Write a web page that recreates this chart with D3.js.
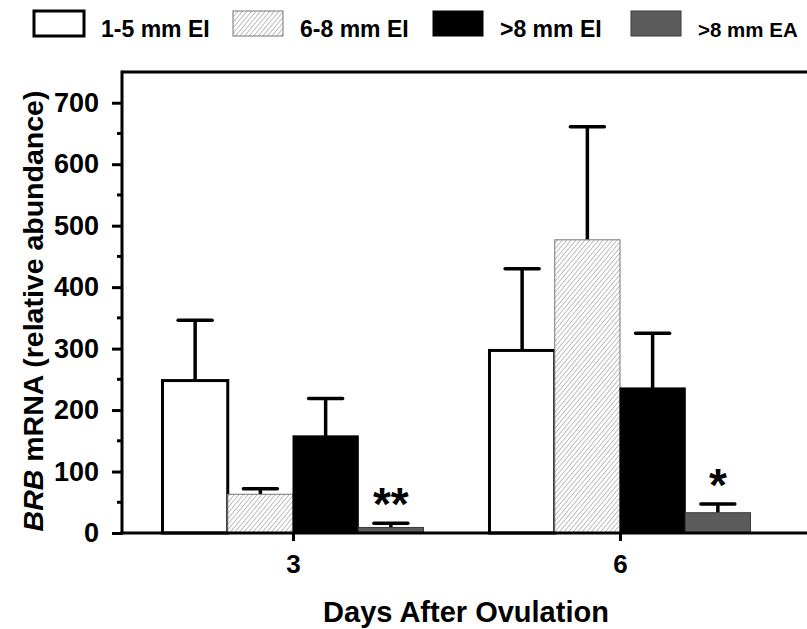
<!DOCTYPE html>
<html>
<head>
<meta charset="utf-8">
<script src="https://cdn.jsdelivr.net/npm/d3@7"></script>
<style>
html,body{margin:0;padding:0;background:#fff;}
svg{display:block;font-family:"Liberation Sans",Arial,sans-serif;}
</style>
</head>
<body>
<svg id="chart" width="807" height="629"></svg>
<script>
// ---- data ----
const days = ["3", "6"];
const seriesNames = ["1-5 mm EI", "6-8 mm EI", ">8 mm EI", ">8 mm EA"];
const means = {
  "3": [248, 63, 158, 9],
  "6": [297, 477, 236, 33]
};
const errTops = {
  "3": [346, 72, 219, 16],
  "6": [430, 661, 325, 47]
};
const significance = {
  "3": ["", "", "", "**"],
  "6": ["", "", "", "*"]
};
const yTicksMajor = [0, 100, 200, 300, 400, 500, 600, 700];
const yTicksMinor = [50, 150, 250, 350, 450, 550, 650];
const xTitle = "Days After Ovulation";

// ---- layout ----
const mLeft = 122, mRight = 807, mTop = 72, mBottom = 533;
const svg = d3.select("#chart");

const defs = svg.append("defs");
const pat = defs.append("pattern").attr("id", "hatch")
  .attr("patternUnits", "userSpaceOnUse").attr("width", 3.5).attr("height", 3.5)
  .attr("patternTransform", "rotate(40)");
pat.append("rect").attr("width", 3.5).attr("height", 3.5).attr("fill", "#fff");
pat.append("line").attr("x1", 0).attr("y1", 0).attr("x2", 0).attr("y2", 3.5)
  .attr("stroke", "#8a8a8a").attr("stroke-width", 1.1);

const styles = [
  {fill: "#fff", stroke: "#000", sw: 3},
  {fill: "url(#hatch)", stroke: "#777", sw: 1},
  {fill: "#000", stroke: "#000", sw: 1},
  {fill: "#5c5c5c", stroke: "#3a3a3a", sw: 1}
];

const y = d3.scaleLinear().domain([0, 750]).range([mBottom, mTop]);
const x = d3.scalePoint().domain(days).range([mLeft, 791]).padding(0.523);
const xs = d3.scaleBand().domain(seriesNames).range([-130.5, 130.5]).padding(0);

// bars
days.forEach(d => {
  seriesNames.forEach((s, i) => {
    const x0 = x(d) + xs(s);
    const bw = xs.bandwidth();
    const v = means[d][i];
    const e = errTops[d][i];
    const st = styles[i];
    svg.append("line").attr("x1", x0 + bw / 2).attr("x2", x0 + bw / 2)
      .attr("y1", y(v)).attr("y2", y(e)).attr("stroke", "#000").attr("stroke-width", 3.5);
    svg.append("line").attr("x1", x0 + bw / 2 - 17).attr("x2", x0 + bw / 2 + 17)
      .attr("y1", y(e)).attr("y2", y(e)).attr("stroke", "#000").attr("stroke-width", 3.5)
      .attr("stroke-linecap", "round");
    svg.append("rect").attr("x", x0).attr("y", y(v)).attr("width", bw)
      .attr("height", y(0) - y(v)).attr("fill", st.fill)
      .attr("stroke", st.stroke).attr("stroke-width", st.sw);
    if (significance[d][i]) {
      svg.append("text").attr("x", x0 + bw / 2).attr("y", y(e) - 3)
        .attr("text-anchor", "middle").attr("font-size", 46).attr("font-weight", "bold")
        .text(significance[d][i]);
    }
  });
});

// top border
svg.append("line").attr("x1", mLeft).attr("x2", mRight).attr("y1", mTop).attr("y2", mTop)
  .attr("stroke", "#000").attr("stroke-width", 3);

// y axis
const yAxis = svg.append("g").attr("transform", `translate(${mLeft},0)`)
  .call(d3.axisLeft(y).tickValues(yTicksMajor).tickSize(10).tickPadding(13).tickFormat(d3.format("d")));
yAxis.select(".domain").remove();
yAxis.selectAll(".tick line").attr("stroke-width", 3);
yAxis.selectAll(".tick text").attr("font-size", 27).attr("font-weight", "bold")
  .attr("font-family", "Liberation Sans, Arial, sans-serif").attr("fill", "#000");
svg.append("g").selectAll("line").data(yTicksMinor).join("line")
  .attr("x1", mLeft - 5).attr("x2", mLeft).attr("y1", d => y(d)).attr("y2", d => y(d))
  .attr("stroke", "#000").attr("stroke-width", 3);
svg.append("line").attr("x1", mLeft).attr("x2", mLeft).attr("y1", mTop - 1.5).attr("y2", mBottom + 1.5)
  .attr("stroke", "#000").attr("stroke-width", 3);

// x axis
const xAxis = svg.append("g").attr("transform", `translate(0,${mBottom})`)
  .call(d3.axisBottom(x).tickSize(8).tickPadding(14));
xAxis.select(".domain").remove();
xAxis.selectAll(".tick line").attr("stroke-width", 3);
xAxis.selectAll(".tick text").attr("font-size", 26).attr("font-weight", "bold")
  .attr("font-family", "Liberation Sans, Arial, sans-serif").attr("fill", "#000");
svg.append("line").attr("x1", mLeft - 1.5).attr("x2", mRight).attr("y1", mBottom).attr("y2", mBottom)
  .attr("stroke", "#000").attr("stroke-width", 3);

// axis titles
svg.append("text").attr("x", 466).attr("y", 622).attr("text-anchor", "middle")
  .attr("font-size", 29).attr("font-weight", "bold").text(xTitle);
const yt = svg.append("text").attr("transform", "translate(43,311) rotate(-90)")
  .attr("text-anchor", "middle").attr("font-size", 28.5).attr("font-weight", "bold");
yt.append("tspan").attr("font-style", "italic").text("BRB");
yt.append("tspan").text(" mRNA (relative abundance)");

// legend
const legX = [34, 233, 433, 631];
const legSize = [23, 23, 23, 20.5];
const lg = svg.append("g");
seriesNames.forEach((s, i) => {
  const st = styles[i];
  lg.append("rect").attr("x", legX[i]).attr("y", 11).attr("width", 50).attr("height", 25)
    .attr("fill", st.fill).attr("stroke", i === 2 ? "#000" : st.stroke).attr("stroke-width", i === 0 ? 3 : 1);
  lg.append("text").attr("x", legX[i] + 67).attr("y", 37)
    .attr("font-size", legSize[i]).attr("font-weight", "bold").text(s);
});
</script>
</body>
</html>
